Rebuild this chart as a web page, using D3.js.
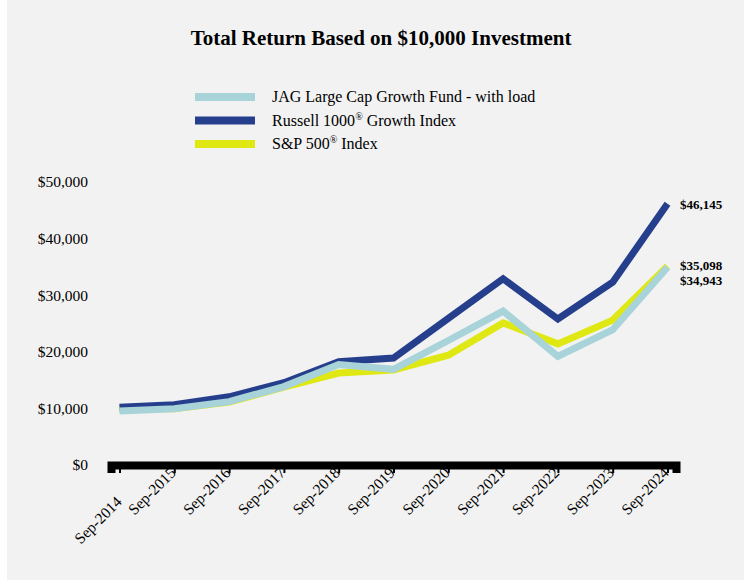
<!DOCTYPE html>
<html>
<head>
<meta charset="utf-8">
<script src="https://cdn.jsdelivr.net/npm/d3@7"></script>
<style>
  body { margin: 0; background: #fff; }
  svg { display: block; }
  text { font-family: "Liberation Serif", "Times New Roman", serif; fill: #000; }
</style>
</head>
<body>
<div id="chart"></div>
<script>
// data
var years = ["Sep-2014", "Sep-2015", "Sep-2016", "Sep-2017", "Sep-2018", "Sep-2019",
             "Sep-2020", "Sep-2021", "Sep-2022", "Sep-2023", "Sep-2024"];
var jagFund = [9550, 9950, 11200, 13850, 17750, 16900, 22000, 27200, 19200, 23900, 34943];
var russell1000 = [10200, 10650, 12050, 14550, 18250, 18900, 25900, 32900, 25800, 32300, 46145];
var sp500 = [10000, 9950, 11100, 13750, 16250, 16800, 19400, 25100, 21400, 25600, 35098];
var yTicks = [0, 10000, 20000, 30000, 40000, 50000];

var russell = {name: "Russell 1000", sup: "®", rest: " Growth Index", values: russell1000, color: "#263f8c"};
var sp = {name: "S&P 500", sup: "®", rest: " Index", values: sp500, color: "#dfe813"};
var jag = {name: "JAG Large Cap Growth Fund - with load", sup: "", rest: "", values: jagFund, color: "#a8d3d9"};

// drawing order: S&P under, fund on top
var series = [sp, russell, jag];
var legendOrder = [jag, russell, sp];

var W = 744, H = 580;

var svg = d3.select("#chart")
    .append("svg")
    .attr("width", W)
    .attr("height", H);

svg.append("rect")
    .attr("x", 7).attr("y", 0)
    .attr("width", W - 7).attr("height", H)
    .attr("fill", "#f2f2f2");

svg.append("text")
    .attr("x", 381)
    .attr("y", 45)
    .attr("text-anchor", "middle")
    .style("font-size", "21px")
    .style("font-weight", "bold")
    .text("Total Return Based on $10,000 Investment");

// legend
var legend = svg.append("g");
legendOrder.forEach(function(s, i) {
    var ly = 97 + i * 23.5;
    legend.append("line")
        .attr("x1", 195).attr("x2", 255)
        .attr("y1", ly).attr("y2", ly)
        .attr("stroke", s.color)
        .attr("stroke-width", 8);
    var t = legend.append("text")
        .attr("x", 272)
        .attr("y", ly + 5)
        .style("font-size", "16px");
    t.append("tspan").text(s.name);
    if (s.sup) {
        t.append("tspan")
            .attr("dy", -6)
            .style("font-size", "10px")
            .text(s.sup);
        t.append("tspan").attr("dy", 6).text(s.rest);
    }
});

// scales
var x = d3.scalePoint()
    .domain(years)
    .range([111, 676])
    .padding(0.155);

var y = d3.scaleLinear()
    .domain([0, 50000])
    .range([465, 182]);

// y labels (no axis line)
var yAxis = svg.append("g")
    .attr("transform", "translate(100,0)")
    .call(d3.axisLeft(y).tickValues(yTicks).tickSize(0).tickPadding(12)
        .tickFormat(function(d) { return "$" + d3.format(",")(d); }));
yAxis.select(".domain").remove();
yAxis.selectAll("text")
    .style("font-family", "Liberation Serif, serif")
    .style("font-size", "15.5px");

// x axis with thick baseline
var xAxis = svg.append("g")
    .attr("transform", "translate(0,465)")
    .call(d3.axisBottom(x).tickSizeOuter(0).tickSize(8));
xAxis.selectAll(".tick line")
    .attr("stroke", "#000")
    .attr("stroke-width", 2);
xAxis.selectAll("text")
    .style("font-family", "Liberation Serif, serif")
    .style("font-size", "15.5px")
    .style("text-anchor", "end")
    .attr("x", 0)
    .attr("y", 0)
    .attr("dy", "0.35em")
    .attr("transform", function(d, i) {
        // first label sits lower in the reference
        return i == 0 ? "translate(-1,34)rotate(-45)" : "translate(-2,5)rotate(-45)";
    });
// baseline sits over the label ends
xAxis.select(".domain")
    .attr("stroke", "#000")
    .attr("stroke-width", 8)
    .raise();

// lines
var line = d3.line()
    .x(function(d, i) { return x(years[i]); })
    .y(function(d) { return y(d); });

svg.append("g")
    .selectAll("path")
    .data(series)
    .enter()
    .append("path")
    .attr("d", function(d) { return line(d.values); })
    .attr("fill", "none")
    .attr("stroke", function(d) { return d.color; })
    .attr("stroke-width", 7)
    .attr("stroke-linejoin", "miter");

// end value labels
var endLabels = [
    {text: "$46,145", value: 46145, dy: 0},
    {text: "$35,098", value: 35098, dy: -1},
    {text: "$34,943", value: 34943, dy: 13}
];
svg.append("g")
    .selectAll("text")
    .data(endLabels)
    .enter()
    .append("text")
    .attr("x", 680)
    .attr("y", function(d) { return y(d.value) + 5 + d.dy; })
    .style("font-size", "13px")
    .style("font-weight", "bold")
    .text(function(d) { return d.text; });
</script>
</body>
</html>
